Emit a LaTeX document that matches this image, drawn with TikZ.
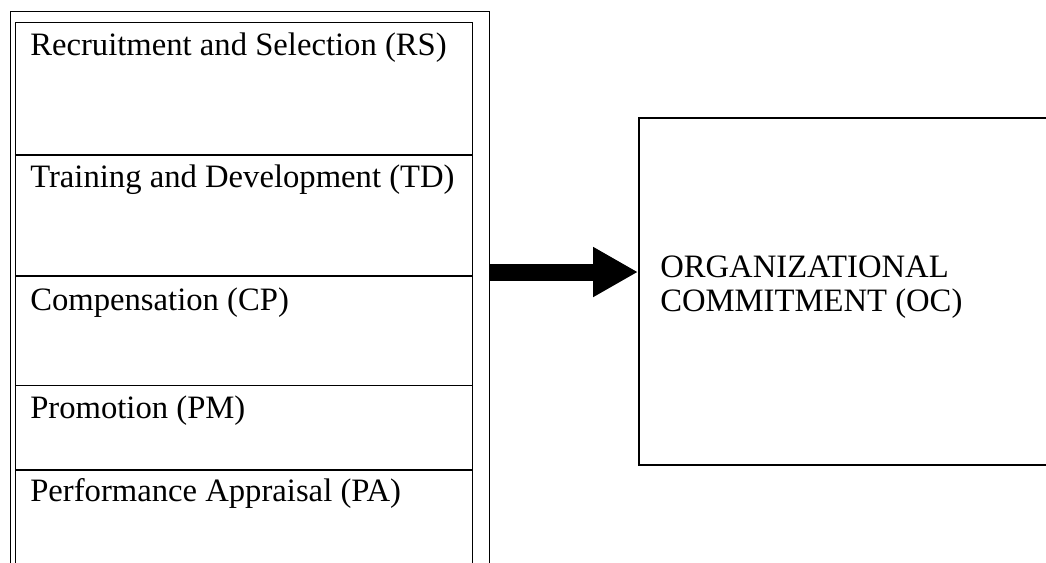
\documentclass[tikz,border=0pt]{standalone}
\usepackage{fontspec}
\setmainfont{Liberation Serif}
\usetikzlibrary{arrows.meta, positioning}

\begin{document}
\begin{tikzpicture}[x=0.75pt, y=-0.75pt,
    frame/.style={draw, line width=1.1pt, anchor=north west, inner sep=0pt},
    cell/.style={draw, line width=0.6pt, anchor=north west, inner sep=0pt, minimum width=342.75pt},
    lbl/.style={anchor=base west, inner sep=0pt, font=\fontsize{24.5}{25.5}\selectfont},
    bigarrow/.style={line width=12.75pt, -{Triangle[length=33.75pt, width=35.25pt]}}]
  \useasboundingbox (0,0) rectangle (1046,562);
  \clip (0,0) rectangle (1046,562);
  % left column
  \node[frame, minimum width=359.25pt, minimum height=450pt] (col) at (10,11) {};
  \node[cell, minimum height=99pt] (rs) at (15,22) {};
  \node[cell, minimum height=90pt, below=0pt of rs] (td) {};
  \node[cell, minimum height=81.75pt, below=0pt of td] (cp) {};
  \node[cell, minimum height=63pt, below=0pt of cp] (pm) {};
  \node[cell, minimum height=90pt, below=0pt of pm] (pa) {};
  \node[lbl] (rslbl) at (30,55) {Recruitment and Selection (RS)};
  \node[lbl] (tdlbl) at (30,187) {Training and Development (TD)};
  \node[lbl] (cplbl) at (30,310) {Compensation (CP)};
  \node[lbl] (pmlbl) at (30,418) {Promotion (PM)};
  \node[lbl] (palbl) at (30,501) {Performance Appraisal (PA)};
  % right box
  \node[frame, line width=1.3pt, minimum width=337.5pt, minimum height=260.25pt] (oc) at (638,117) {};
  \node[lbl, anchor=west, align=left] (oclbl) at (660,287) {ORGANIZATIONAL\\COMMITMENT (OC)};
  % arrow
  \coordinate (tail) at (490,272);
  \draw[bigarrow] (tail) -- (tail -| oc.west);
\end{tikzpicture}
\end{document}
